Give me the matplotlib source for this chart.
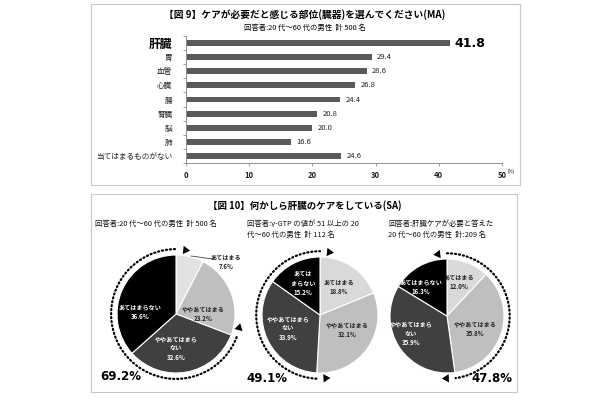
import matplotlib
matplotlib.use('Agg')
import matplotlib.pyplot as plt
import numpy as np
from matplotlib.patches import Rectangle
from matplotlib.lines import Line2D

plt.rcParams['font.family'] = ['Noto Sans CJK JP', 'DejaVu Sans']

# ---------------- data ----------------
organs = ['肝臓', '胃', '血管', '心臓', '腸', '腎臓', '脳', '肺', '当てはまるものがない']
organ_values = [41.8, 29.4, 28.6, 26.8, 24.4, 20.8, 20.0, 16.6, 24.6]
x_ticks = [0, 10, 20, 30, 40, 50]

answer_cats = ['あてはまる', 'ややあてはまる', 'ややあてはまらない', 'あてはまらない']
pie1_values = [7.6, 23.2, 32.6, 36.6]
pie2_values = [18.8, 32.1, 33.9, 15.2]
pie3_values = [12.0, 35.8, 35.9, 16.3]
pie1_names = ['あてはまる', 'ややあてはまる', 'ややあてはまら\nない', 'あてはまらない']
pie2_names = ['あてはまる', 'ややあてはまる', 'ややあてはまら\nない', 'あては\nまらない']
pie3_names = ['あてはまる', 'ややあてはまる', 'ややあてはまら\nない', 'あてはまらない']
pie1_group = [2, 3]   # slices summed by the dotted arc
pie2_group = [2, 3]
pie3_group = [0, 1]

title9 = '【図 9】ケアが必要だと感じる部位(臓器)を選んでください(MA)'
sub9 = '回答者:20 代～60 代の男性  計 500 名'
title10 = '【図 10】何かしら肝臓のケアをしている(SA)'
sub10 = ['回答者:20 代～60 代の男性  計 500 名',
         '回答者:γ-GTP の値が 51 以上の 20\n代～60 代の男性  計 112 名',
         '回答者:肝臓ケアが必要と答えた\n20 代～60 代の男性  計:209 名']

# ---------------- figure ----------------
W, H = 610, 400
fig = plt.figure(figsize=(6.1, 4.0), dpi=100)


def rect(x0, y0, x1, y1):
    return [x0 / W, 1 - y1 / H, (x1 - x0) / W, (y1 - y0) / H]


def fx(x):
    return x / W


def fy(y):
    return 1 - y / H


# boxes
for (x0, y0, x1, y1) in [(91, 4, 520, 185), (91, 194, 517, 392)]:
    fig.patches.append(Rectangle((fx(x0), fy(y1)), (x1 - x0) / W, (y1 - y0) / H,
                                 transform=fig.transFigure, fill=False,
                                 edgecolor='#c8c8c8', lw=0.8))

# ---------------- bar chart ----------------
fig.text(fx(305), fy(15), title9, ha='center', va='center', fontsize=7, fontweight='bold')
fig.text(fx(305), fy(28), sub9, ha='center', va='center', fontsize=5.3)

ax = fig.add_axes(rect(186, 36, 502, 163))
y = np.arange(len(organs))
ax.barh(y, organ_values, height=0.42, color='#5a5a5a')
ax.set_xlim(0, 50)
ax.set_ylim(len(organs) - 0.5, -0.5)
for s in ['top', 'right']:
    ax.spines[s].set_visible(False)
for s in ['left', 'bottom']:
    ax.spines[s].set_color('#909090')
    ax.spines[s].set_linewidth(0.7)
ax.set_xticks(x_ticks)
ax.set_xticklabels([str(t) for t in x_ticks], fontsize=5.5, fontweight='bold', color='#222222')
ax.tick_params(axis='x', length=2, width=0.6, color='#909090', pad=4)
ax.set_yticks(y)
ax.set_yticklabels(organs, fontsize=5.5, color='#222222')
ax.tick_params(axis='y', length=0, pad=10)
ax.set_yticks(np.arange(-0.5, len(organs), 1), minor=True)
ax.tick_params(axis='y', which='minor', length=2.5, width=0.6, color='#909090')
lab0 = ax.get_yticklabels()[0]
lab0.set_fontsize(8.5)
lab0.set_fontweight('bold')
lab0.set_color('black')
for i, v in enumerate(organ_values):
    if i == 0:
        ax.text(v + 0.6, i, f'{v:.1f}', va='center', ha='left', fontsize=9,
                fontweight='bold', family='DejaVu Sans', color='black')
    else:
        ax.text(v + 0.8, i, f'{v:.1f}', va='center', ha='left', fontsize=5.5,
                color='#222222')
fig.text(fx(508), fy(171), '(%)', ha='left', va='center', fontsize=3.2)

# ---------------- pies ----------------
fig.text(fx(305), fy(206), title10, ha='center', va='center', fontsize=6.8, fontweight='bold')
for (tx, txt) in zip([95, 247, 388], sub10):
    fig.text(fx(tx), fy(220), txt, ha='left', va='top', fontsize=5.3,
             linespacing=1.5, color='#111111')

colors = ['#d9d9d9', '#bfbfbf', '#404040', '#000000']
text_colors = ['#222222', '#222222', 'white', 'white']
LABEL_FS = 4.4


def draw_pie(cx, cy, r, values, names, label_px, group, pct_px, first_color=None):
    L = 1.32
    a = fig.add_axes(rect(cx - L * r, cy - L * r, cx + L * r, cy + L * r))
    cols = list(colors)
    if first_color:
        cols[0] = first_color
    a.pie(values, colors=cols, startangle=90, counterclock=False, radius=1,
          wedgeprops=dict(edgecolor='white', linewidth=0.8))
    a.set_xlim(-L, L)
    a.set_ylim(-L, L)
    a.set_aspect('equal')
    a.axis('off')

    def d(px, py):
        return ((px - cx) / r, (cy - py) / r)

    for k, (v, nm) in enumerate(zip(values, names)):
        if label_px[k] is None:
            continue
        px, py = label_px[k]
        a.text(*d(px, py), f'{nm}\n{v:.1f}%', ha='center', va='center',
               fontsize=LABEL_FS, fontweight='bold', color=text_colors[k], linespacing=1.4)

    # dotted arc over the grouped slices
    cum = np.concatenate([[0], np.cumsum(values)]) / 100.0
    f0, f1 = cum[group[0]], cum[group[-1] + 1]
    R = 1.1
    f = np.linspace(f0, f1, 200)
    ang = np.radians(90 - 360 * f)
    a.plot(R * np.cos(ang), R * np.sin(ang), color='black', lw=1.6,
           linestyle=(0, (0.5, 1.3)), dash_capstyle='round')
    # arrowheads at both ends pointing away from the arc
    for fe, sgn in [(f0, -1), (f1, 1)]:
        t = np.radians(90 - 360 * fe)
        t2 = np.radians(90 - 360 * (fe + sgn * 0.035))
        a.annotate('', xy=(R * np.cos(t2), R * np.sin(t2)),
                   xytext=(R * np.cos(t), R * np.sin(t)),
                   arrowprops=dict(arrowstyle='-|>,head_length=0.5,head_width=0.3',
                                   color='black', lw=0.01, shrinkA=0, shrinkB=0))
    total = sum(values[i] for i in group)
    fig.text(fx(pct_px[0]), fy(pct_px[1]), f'{total:.1f}%', ha='center', va='center',
             fontsize=8.5, fontweight='bold', family='DejaVu Sans')
    return a, d


a1, d1 = draw_pie(176, 314, 59, pie1_values, pie1_names,
                  [None, (203, 314), (176, 348), (140, 312)], pie1_group, (121, 377),
                  first_color='#e2e2e2')
v0 = pie1_values[0]
a1.text(*d1(226, 262), f'{pie1_names[0]}\n{v0:.1f}%', ha='center', va='center',
        fontsize=LABEL_FS, fontweight='bold', color='#222222', linespacing=1.4)
a1.add_line(Line2D(*zip(d1(191, 256), d1(213, 259)), color='#444444', lw=0.6))

draw_pie(320, 315, 58, pie2_values, pie2_names,
         [(339, 287), (347, 330), (288, 328), (303, 283)], pie2_group, (267, 379))
draw_pie(447, 316, 57, pie3_values, pie3_names,
         [(459, 282), (475, 329), (411, 333), (421, 287)], pie3_group, (492, 378))

fig.savefig('out.png', dpi=100, facecolor='white')
